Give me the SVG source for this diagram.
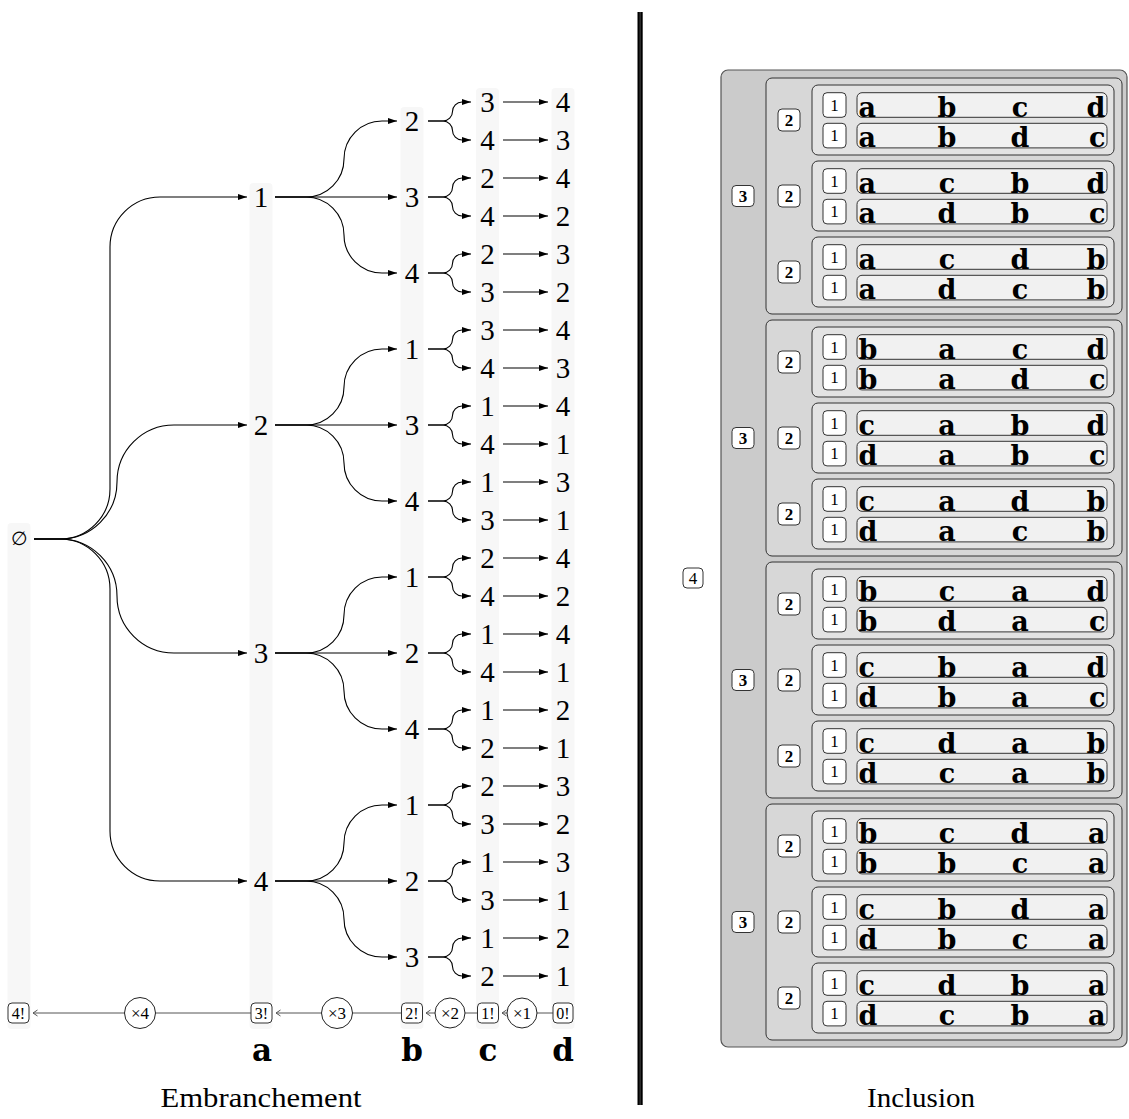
<svg xmlns="http://www.w3.org/2000/svg" width="1129" height="1119" viewBox="0 0 1129 1119">
<defs>
<marker id="ah" markerUnits="userSpaceOnUse" markerWidth="10" markerHeight="7" refX="9" refY="3" orient="auto"><path d="M0,0 L9,3 L0,6 Z" fill="#000"/></marker>
<marker id="oa" markerUnits="userSpaceOnUse" markerWidth="7" markerHeight="8" refX="5" refY="3.5" orient="auto"><path d="M0.5,0.5 L5,3.5 L0.5,6.5" fill="none" stroke="#555" stroke-width="1"/></marker>
</defs>
<style>
.strip{fill:#f7f7f7}
.dg{font-family:"Liberation Serif",serif;font-size:29px;text-anchor:middle;fill:#000}
.sym{font-family:"DejaVu Serif",serif;font-size:19px;text-anchor:middle;fill:#000}
.e{fill:none;stroke:#000;stroke-width:1.1;marker-end:url(#ah)}
.ga{fill:none;stroke:#555;stroke-width:1;marker-end:url(#oa)}
.fb{fill:#fff;stroke:#333;stroke-width:1}
.cc{fill:#fff;stroke:#222;stroke-width:1}
.sm{font-family:"Liberation Serif",serif;font-size:16px;text-anchor:middle;fill:#000}
.sx{font-family:"Liberation Serif",serif;font-size:17px;text-anchor:middle;fill:#000}
.bl{font-family:"DejaVu Serif",serif;font-weight:bold;font-size:31px;text-anchor:middle;fill:#000}
.cap{font-family:"Liberation Serif",serif;font-size:28px;text-anchor:middle;fill:#000}
.o{fill:#cbcbcb;stroke:#555;stroke-width:1.2}
.l3{fill:#d7d7d7;stroke:#333;stroke-width:1}
.l2{fill:#e3e3e3;stroke:#333;stroke-width:1}
.pm{fill:#f1f1f1;stroke:#333;stroke-width:1}
.lb{fill:#fff;stroke:#333;stroke-width:1}
.s1{font-family:"Liberation Serif",serif;font-size:17px;text-anchor:middle;fill:#000}
.sb{font-family:"Liberation Serif",serif;font-size:17px;font-weight:bold;text-anchor:middle;fill:#000}
.pa{font-family:"DejaVu Serif",serif;font-weight:bold;font-size:27px;fill:#000;text-anchor:start}
.pc{font-family:"DejaVu Serif",serif;font-weight:bold;font-size:27px;fill:#000;text-anchor:middle}
.pe{font-family:"DejaVu Serif",serif;font-weight:bold;font-size:27px;fill:#000;text-anchor:end}
</style>
<rect width="1129" height="1119" fill="#fff"/>

<g id="strips">
<rect class="strip" x="7.5" y="523" width="23" height="506" rx="4"/>
<rect class="strip" x="249.5" y="183" width="23" height="846" rx="4"/>
<rect class="strip" x="400.5" y="107" width="23" height="922" rx="4"/>
<rect class="strip" x="476" y="88" width="23" height="941" rx="4"/>
<rect class="strip" x="551.5" y="88" width="23" height="941" rx="4"/>
</g>

<g id="connectors">
<path class="e" d="M34,539 h26 c27.6,0 50,-22.4 50,-50 V247 c0,-27.6 22.4,-50 50,-50 H247"/>
<path class="e" d="M34,539 h26 c31.5,0 57,-25.5 57,-57 c0,-31.5 25.5,-57 57,-57 H247"/>
<path class="e" d="M34,539 h26 c31.5,0 57,25.5 57,57 c0,31.5 25.5,57 57,57 H247"/>
<path class="e" d="M34,539 h26 c27.6,0 50,22.4 50,50 V831 c0,27.6 22.4,50 50,50 H247"/>

<path class="e" d="M275,197 h31 c21,0 38,-17 38,-38 c0,-21 17,-38 38,-38 h15"/>
<path class="e" d="M275,197 H397"/>
<path class="e" d="M275,197 h31 c21,0 38,17 38,38 c0,21 17,38 38,38 h15"/>
<path class="e" d="M275,425 h31 c21,0 38,-17 38,-38 c0,-21 17,-38 38,-38 h15"/>
<path class="e" d="M275,425 H397"/>
<path class="e" d="M275,425 h31 c21,0 38,17 38,38 c0,21 17,38 38,38 h15"/>
<path class="e" d="M275,653 h31 c21,0 38,-17 38,-38 c0,-21 17,-38 38,-38 h15"/>
<path class="e" d="M275,653 H397"/>
<path class="e" d="M275,653 h31 c21,0 38,17 38,38 c0,21 17,38 38,38 h15"/>
<path class="e" d="M275,881 h31 c21,0 38,-17 38,-38 c0,-21 17,-38 38,-38 h15"/>
<path class="e" d="M275,881 H397"/>
<path class="e" d="M275,881 h31 c21,0 38,17 38,38 c0,21 17,38 38,38 h15"/>

<path class="e" d="M428,121 h15 c5.24,0 9.5,-4.26 9.5,-9.5 c0,-5.24 4.26,-9.5 9.5,-9.5 h9"/>
<path class="e" d="M428,121 h15 c5.24,0 9.5,4.26 9.5,9.5 c0,5.24 4.26,9.5 9.5,9.5 h9"/>
<path class="e" d="M428,197 h15 c5.24,0 9.5,-4.26 9.5,-9.5 c0,-5.24 4.26,-9.5 9.5,-9.5 h9"/>
<path class="e" d="M428,197 h15 c5.24,0 9.5,4.26 9.5,9.5 c0,5.24 4.26,9.5 9.5,9.5 h9"/>
<path class="e" d="M428,273 h15 c5.24,0 9.5,-4.26 9.5,-9.5 c0,-5.24 4.26,-9.5 9.5,-9.5 h9"/>
<path class="e" d="M428,273 h15 c5.24,0 9.5,4.26 9.5,9.5 c0,5.24 4.26,9.5 9.5,9.5 h9"/>
<path class="e" d="M428,349 h15 c5.24,0 9.5,-4.26 9.5,-9.5 c0,-5.24 4.26,-9.5 9.5,-9.5 h9"/>
<path class="e" d="M428,349 h15 c5.24,0 9.5,4.26 9.5,9.5 c0,5.24 4.26,9.5 9.5,9.5 h9"/>
<path class="e" d="M428,425 h15 c5.24,0 9.5,-4.26 9.5,-9.5 c0,-5.24 4.26,-9.5 9.5,-9.5 h9"/>
<path class="e" d="M428,425 h15 c5.24,0 9.5,4.26 9.5,9.5 c0,5.24 4.26,9.5 9.5,9.5 h9"/>
<path class="e" d="M428,501 h15 c5.24,0 9.5,-4.26 9.5,-9.5 c0,-5.24 4.26,-9.5 9.5,-9.5 h9"/>
<path class="e" d="M428,501 h15 c5.24,0 9.5,4.26 9.5,9.5 c0,5.24 4.26,9.5 9.5,9.5 h9"/>
<path class="e" d="M428,577 h15 c5.24,0 9.5,-4.26 9.5,-9.5 c0,-5.24 4.26,-9.5 9.5,-9.5 h9"/>
<path class="e" d="M428,577 h15 c5.24,0 9.5,4.26 9.5,9.5 c0,5.24 4.26,9.5 9.5,9.5 h9"/>
<path class="e" d="M428,653 h15 c5.24,0 9.5,-4.26 9.5,-9.5 c0,-5.24 4.26,-9.5 9.5,-9.5 h9"/>
<path class="e" d="M428,653 h15 c5.24,0 9.5,4.26 9.5,9.5 c0,5.24 4.26,9.5 9.5,9.5 h9"/>
<path class="e" d="M428,729 h15 c5.24,0 9.5,-4.26 9.5,-9.5 c0,-5.24 4.26,-9.5 9.5,-9.5 h9"/>
<path class="e" d="M428,729 h15 c5.24,0 9.5,4.26 9.5,9.5 c0,5.24 4.26,9.5 9.5,9.5 h9"/>
<path class="e" d="M428,805 h15 c5.24,0 9.5,-4.26 9.5,-9.5 c0,-5.24 4.26,-9.5 9.5,-9.5 h9"/>
<path class="e" d="M428,805 h15 c5.24,0 9.5,4.26 9.5,9.5 c0,5.24 4.26,9.5 9.5,9.5 h9"/>
<path class="e" d="M428,881 h15 c5.24,0 9.5,-4.26 9.5,-9.5 c0,-5.24 4.26,-9.5 9.5,-9.5 h9"/>
<path class="e" d="M428,881 h15 c5.24,0 9.5,4.26 9.5,9.5 c0,5.24 4.26,9.5 9.5,9.5 h9"/>
<path class="e" d="M428,957 h15 c5.24,0 9.5,-4.26 9.5,-9.5 c0,-5.24 4.26,-9.5 9.5,-9.5 h9"/>
<path class="e" d="M428,957 h15 c5.24,0 9.5,4.26 9.5,9.5 c0,5.24 4.26,9.5 9.5,9.5 h9"/>

<path class="e" d="M503,102 H548"/><path class="e" d="M503,140 H548"/>
<path class="e" d="M503,178 H548"/><path class="e" d="M503,216 H548"/>
<path class="e" d="M503,254 H548"/><path class="e" d="M503,292 H548"/>
<path class="e" d="M503,330 H548"/><path class="e" d="M503,368 H548"/>
<path class="e" d="M503,406 H548"/><path class="e" d="M503,444 H548"/>
<path class="e" d="M503,482 H548"/><path class="e" d="M503,520 H548"/>
<path class="e" d="M503,558 H548"/><path class="e" d="M503,596 H548"/>
<path class="e" d="M503,634 H548"/><path class="e" d="M503,672 H548"/>
<path class="e" d="M503,710 H548"/><path class="e" d="M503,748 H548"/>
<path class="e" d="M503,786 H548"/><path class="e" d="M503,824 H548"/>
<path class="e" d="M503,862 H548"/><path class="e" d="M503,900 H548"/>
<path class="e" d="M503,938 H548"/><path class="e" d="M503,976 H548"/>

<path class="ga" d="M252,1013 H33"/>
<path class="ga" d="M402,1013 H276"/>
<path class="ga" d="M478,1013 H426"/>
<path class="ga" d="M554,1013 H502"/>
</g>

<g id="tree-nodes">
<g id="n-root"><text class="sym" x="19" y="545">∅</text></g>
<g id="n-l1">
<text class="dg" x="261" y="206.8">1</text>
<text class="dg" x="261" y="434.8">2</text>
<text class="dg" x="261" y="662.8">3</text>
<text class="dg" x="261" y="890.8">4</text>
</g>
<g id="n-l2">
<text class="dg" x="412" y="130.8">2</text>
<text class="dg" x="412" y="206.8">3</text>
<text class="dg" x="412" y="282.8">4</text>
<text class="dg" x="412" y="358.8">1</text>
<text class="dg" x="412" y="434.8">3</text>
<text class="dg" x="412" y="510.8">4</text>
<text class="dg" x="412" y="586.8">1</text>
<text class="dg" x="412" y="662.8">2</text>
<text class="dg" x="412" y="738.8">4</text>
<text class="dg" x="412" y="814.8">1</text>
<text class="dg" x="412" y="890.8">2</text>
<text class="dg" x="412" y="966.8">3</text>
</g>
<g id="n-l3">
<text class="dg" x="487.5" y="111.8">3</text>
<text class="dg" x="487.5" y="149.8">4</text>
<text class="dg" x="487.5" y="187.8">2</text>
<text class="dg" x="487.5" y="225.8">4</text>
<text class="dg" x="487.5" y="263.8">2</text>
<text class="dg" x="487.5" y="301.8">3</text>
<text class="dg" x="487.5" y="339.8">3</text>
<text class="dg" x="487.5" y="377.8">4</text>
<text class="dg" x="487.5" y="415.8">1</text>
<text class="dg" x="487.5" y="453.8">4</text>
<text class="dg" x="487.5" y="491.8">1</text>
<text class="dg" x="487.5" y="529.8">3</text>
<text class="dg" x="487.5" y="567.8">2</text>
<text class="dg" x="487.5" y="605.8">4</text>
<text class="dg" x="487.5" y="643.8">1</text>
<text class="dg" x="487.5" y="681.8">4</text>
<text class="dg" x="487.5" y="719.8">1</text>
<text class="dg" x="487.5" y="757.8">2</text>
<text class="dg" x="487.5" y="795.8">2</text>
<text class="dg" x="487.5" y="833.8">3</text>
<text class="dg" x="487.5" y="871.8">1</text>
<text class="dg" x="487.5" y="909.8">3</text>
<text class="dg" x="487.5" y="947.8">1</text>
<text class="dg" x="487.5" y="985.8">2</text>
</g>
<g id="n-l4">
<text class="dg" x="563" y="111.8">4</text>
<text class="dg" x="563" y="149.8">3</text>
<text class="dg" x="563" y="187.8">4</text>
<text class="dg" x="563" y="225.8">2</text>
<text class="dg" x="563" y="263.8">3</text>
<text class="dg" x="563" y="301.8">2</text>
<text class="dg" x="563" y="339.8">4</text>
<text class="dg" x="563" y="377.8">3</text>
<text class="dg" x="563" y="415.8">4</text>
<text class="dg" x="563" y="453.8">1</text>
<text class="dg" x="563" y="491.8">3</text>
<text class="dg" x="563" y="529.8">1</text>
<text class="dg" x="563" y="567.8">4</text>
<text class="dg" x="563" y="605.8">2</text>
<text class="dg" x="563" y="643.8">4</text>
<text class="dg" x="563" y="681.8">1</text>
<text class="dg" x="563" y="719.8">2</text>
<text class="dg" x="563" y="757.8">1</text>
<text class="dg" x="563" y="795.8">3</text>
<text class="dg" x="563" y="833.8">2</text>
<text class="dg" x="563" y="871.8">3</text>
<text class="dg" x="563" y="909.8">1</text>
<text class="dg" x="563" y="947.8">2</text>
<text class="dg" x="563" y="985.8">1</text>
</g>
</g>

<g id="counters">
<g id="f4"><rect class="fb" x="8" y="1003" width="21" height="20" rx="4"/><text class="sm" x="18.5" y="1018.5">4!</text></g>
<g id="m4"><circle class="cc" cx="140" cy="1013" r="15.5"/><text class="sx" x="140" y="1019">×4</text></g>
<g id="f3"><rect class="fb" x="251" y="1003" width="21" height="20" rx="4"/><text class="sm" x="261.5" y="1018.5">3!</text></g>
<g id="m3"><circle class="cc" cx="337" cy="1013" r="15.5"/><text class="sx" x="337" y="1019">×3</text></g>
<g id="f2"><rect class="fb" x="401.5" y="1003" width="21" height="20" rx="4"/><text class="sm" x="412" y="1018.5">2!</text></g>
<g id="m2"><circle class="cc" cx="450" cy="1013" r="15"/><text class="sx" x="450" y="1019">×2</text></g>
<g id="f1"><rect class="fb" x="477.5" y="1003" width="21" height="20" rx="4"/><text class="sm" x="488" y="1018.5">1!</text></g>
<g id="m1"><circle class="cc" cx="522" cy="1013" r="15"/><text class="sx" x="522" y="1019">×1</text></g>
<g id="f0"><rect class="fb" x="553" y="1003" width="20" height="20" rx="4"/><text class="sm" x="563" y="1018.5">0!</text></g>
</g>

<g id="col-labels">
<text class="bl" x="262" y="1061">a</text>
<text class="bl" x="412" y="1061">b</text>
<text class="bl" x="488" y="1061">c</text>
<text class="bl" x="563" y="1061">d</text>
</g>

<text class="cap" x="261" y="1107" textLength="201" lengthAdjust="spacingAndGlyphs">Embranchement</text>
<text class="cap" x="921" y="1107" textLength="108" lengthAdjust="spacingAndGlyphs">Inclusion</text>

<g id="separator">
<rect x="637.5" y="12" width="5.2" height="1093" fill="#000"/>
<line x1="640.1" y1="12" x2="640.1" y2="1105" stroke="#777" stroke-width="0.6"/>
</g>

<g id="inclusion">
<g id="box4">
<rect class="o" x="721" y="70" width="406" height="977" rx="7"/>
<rect class="lb" x="683" y="568" width="20" height="20" rx="4"/><text class="s1" x="693" y="584">4</text>
</g>

<g id="box3-a">
<rect class="l3" x="766" y="78" width="356" height="236" rx="6"/>
<rect class="lb" x="732" y="185.5" width="22" height="21" rx="4"/><text class="sb" x="743" y="202">3</text>
<g id="box2-a1"><rect class="l2" x="812" y="85" width="302" height="70" rx="6"/>
<rect class="lb" x="778" y="109" width="22" height="22" rx="4"/><text class="sb" x="789" y="126">2</text>
<g id="p01" transform="translate(0,92.7)"><rect class="lb" x="823" width="23" height="24.6" rx="4"/><text class="s1" x="834.5" y="18.2">1</text><rect class="pm" x="857" width="250" height="24.6" rx="5"/><text class="pa" x="858.5" y="24">a</text><text class="pc" x="947" y="24">b</text><text class="pc" x="1020" y="24">c</text><text class="pe" x="1105.5" y="24">d</text></g>
<g id="p02" transform="translate(0,123.3)"><rect class="lb" x="823" width="23" height="24.6" rx="4"/><text class="s1" x="834.5" y="18.2">1</text><rect class="pm" x="857" width="250" height="24.6" rx="5"/><text class="pa" x="858.5" y="24">a</text><text class="pc" x="947" y="24">b</text><text class="pc" x="1020" y="24">d</text><text class="pe" x="1105.5" y="24">c</text></g>
</g>
<g id="box2-a2"><rect class="l2" x="812" y="161" width="302" height="70" rx="6"/>
<rect class="lb" x="778" y="185" width="22" height="22" rx="4"/><text class="sb" x="789" y="202">2</text>
<g id="p03" transform="translate(0,168.7)"><rect class="lb" x="823" width="23" height="24.6" rx="4"/><text class="s1" x="834.5" y="18.2">1</text><rect class="pm" x="857" width="250" height="24.6" rx="5"/><text class="pa" x="858.5" y="24">a</text><text class="pc" x="947" y="24">c</text><text class="pc" x="1020" y="24">b</text><text class="pe" x="1105.5" y="24">d</text></g>
<g id="p04" transform="translate(0,199.3)"><rect class="lb" x="823" width="23" height="24.6" rx="4"/><text class="s1" x="834.5" y="18.2">1</text><rect class="pm" x="857" width="250" height="24.6" rx="5"/><text class="pa" x="858.5" y="24">a</text><text class="pc" x="947" y="24">d</text><text class="pc" x="1020" y="24">b</text><text class="pe" x="1105.5" y="24">c</text></g>
</g>
<g id="box2-a3"><rect class="l2" x="812" y="237" width="302" height="70" rx="6"/>
<rect class="lb" x="778" y="261" width="22" height="22" rx="4"/><text class="sb" x="789" y="278">2</text>
<g id="p05" transform="translate(0,244.7)"><rect class="lb" x="823" width="23" height="24.6" rx="4"/><text class="s1" x="834.5" y="18.2">1</text><rect class="pm" x="857" width="250" height="24.6" rx="5"/><text class="pa" x="858.5" y="24">a</text><text class="pc" x="947" y="24">c</text><text class="pc" x="1020" y="24">d</text><text class="pe" x="1105.5" y="24">b</text></g>
<g id="p06" transform="translate(0,275.3)"><rect class="lb" x="823" width="23" height="24.6" rx="4"/><text class="s1" x="834.5" y="18.2">1</text><rect class="pm" x="857" width="250" height="24.6" rx="5"/><text class="pa" x="858.5" y="24">a</text><text class="pc" x="947" y="24">d</text><text class="pc" x="1020" y="24">c</text><text class="pe" x="1105.5" y="24">b</text></g>
</g>
</g>

<g id="box3-b">
<rect class="l3" x="766" y="320" width="356" height="236" rx="6"/>
<rect class="lb" x="732" y="427.5" width="22" height="21" rx="4"/><text class="sb" x="743" y="444">3</text>
<g id="box2-b1"><rect class="l2" x="812" y="327" width="302" height="70" rx="6"/>
<rect class="lb" x="778" y="351" width="22" height="22" rx="4"/><text class="sb" x="789" y="368">2</text>
<g id="p07" transform="translate(0,334.7)"><rect class="lb" x="823" width="23" height="24.6" rx="4"/><text class="s1" x="834.5" y="18.2">1</text><rect class="pm" x="857" width="250" height="24.6" rx="5"/><text class="pa" x="858.5" y="24">b</text><text class="pc" x="947" y="24">a</text><text class="pc" x="1020" y="24">c</text><text class="pe" x="1105.5" y="24">d</text></g>
<g id="p08" transform="translate(0,365.3)"><rect class="lb" x="823" width="23" height="24.6" rx="4"/><text class="s1" x="834.5" y="18.2">1</text><rect class="pm" x="857" width="250" height="24.6" rx="5"/><text class="pa" x="858.5" y="24">b</text><text class="pc" x="947" y="24">a</text><text class="pc" x="1020" y="24">d</text><text class="pe" x="1105.5" y="24">c</text></g>
</g>
<g id="box2-b2"><rect class="l2" x="812" y="403" width="302" height="70" rx="6"/>
<rect class="lb" x="778" y="427" width="22" height="22" rx="4"/><text class="sb" x="789" y="444">2</text>
<g id="p09" transform="translate(0,410.7)"><rect class="lb" x="823" width="23" height="24.6" rx="4"/><text class="s1" x="834.5" y="18.2">1</text><rect class="pm" x="857" width="250" height="24.6" rx="5"/><text class="pa" x="858.5" y="24">c</text><text class="pc" x="947" y="24">a</text><text class="pc" x="1020" y="24">b</text><text class="pe" x="1105.5" y="24">d</text></g>
<g id="p10" transform="translate(0,441.3)"><rect class="lb" x="823" width="23" height="24.6" rx="4"/><text class="s1" x="834.5" y="18.2">1</text><rect class="pm" x="857" width="250" height="24.6" rx="5"/><text class="pa" x="858.5" y="24">d</text><text class="pc" x="947" y="24">a</text><text class="pc" x="1020" y="24">b</text><text class="pe" x="1105.5" y="24">c</text></g>
</g>
<g id="box2-b3"><rect class="l2" x="812" y="479" width="302" height="70" rx="6"/>
<rect class="lb" x="778" y="503" width="22" height="22" rx="4"/><text class="sb" x="789" y="520">2</text>
<g id="p11" transform="translate(0,486.7)"><rect class="lb" x="823" width="23" height="24.6" rx="4"/><text class="s1" x="834.5" y="18.2">1</text><rect class="pm" x="857" width="250" height="24.6" rx="5"/><text class="pa" x="858.5" y="24">c</text><text class="pc" x="947" y="24">a</text><text class="pc" x="1020" y="24">d</text><text class="pe" x="1105.5" y="24">b</text></g>
<g id="p12" transform="translate(0,517.3)"><rect class="lb" x="823" width="23" height="24.6" rx="4"/><text class="s1" x="834.5" y="18.2">1</text><rect class="pm" x="857" width="250" height="24.6" rx="5"/><text class="pa" x="858.5" y="24">d</text><text class="pc" x="947" y="24">a</text><text class="pc" x="1020" y="24">c</text><text class="pe" x="1105.5" y="24">b</text></g>
</g>
</g>

<g id="box3-c">
<rect class="l3" x="766" y="562" width="356" height="236" rx="6"/>
<rect class="lb" x="732" y="669.5" width="22" height="21" rx="4"/><text class="sb" x="743" y="686">3</text>
<g id="box2-c1"><rect class="l2" x="812" y="569" width="302" height="70" rx="6"/>
<rect class="lb" x="778" y="593" width="22" height="22" rx="4"/><text class="sb" x="789" y="610">2</text>
<g id="p13" transform="translate(0,576.7)"><rect class="lb" x="823" width="23" height="24.6" rx="4"/><text class="s1" x="834.5" y="18.2">1</text><rect class="pm" x="857" width="250" height="24.6" rx="5"/><text class="pa" x="858.5" y="24">b</text><text class="pc" x="947" y="24">c</text><text class="pc" x="1020" y="24">a</text><text class="pe" x="1105.5" y="24">d</text></g>
<g id="p14" transform="translate(0,607.3)"><rect class="lb" x="823" width="23" height="24.6" rx="4"/><text class="s1" x="834.5" y="18.2">1</text><rect class="pm" x="857" width="250" height="24.6" rx="5"/><text class="pa" x="858.5" y="24">b</text><text class="pc" x="947" y="24">d</text><text class="pc" x="1020" y="24">a</text><text class="pe" x="1105.5" y="24">c</text></g>
</g>
<g id="box2-c2"><rect class="l2" x="812" y="645" width="302" height="70" rx="6"/>
<rect class="lb" x="778" y="669" width="22" height="22" rx="4"/><text class="sb" x="789" y="686">2</text>
<g id="p15" transform="translate(0,652.7)"><rect class="lb" x="823" width="23" height="24.6" rx="4"/><text class="s1" x="834.5" y="18.2">1</text><rect class="pm" x="857" width="250" height="24.6" rx="5"/><text class="pa" x="858.5" y="24">c</text><text class="pc" x="947" y="24">b</text><text class="pc" x="1020" y="24">a</text><text class="pe" x="1105.5" y="24">d</text></g>
<g id="p16" transform="translate(0,683.3)"><rect class="lb" x="823" width="23" height="24.6" rx="4"/><text class="s1" x="834.5" y="18.2">1</text><rect class="pm" x="857" width="250" height="24.6" rx="5"/><text class="pa" x="858.5" y="24">d</text><text class="pc" x="947" y="24">b</text><text class="pc" x="1020" y="24">a</text><text class="pe" x="1105.5" y="24">c</text></g>
</g>
<g id="box2-c3"><rect class="l2" x="812" y="721" width="302" height="70" rx="6"/>
<rect class="lb" x="778" y="745" width="22" height="22" rx="4"/><text class="sb" x="789" y="762">2</text>
<g id="p17" transform="translate(0,728.7)"><rect class="lb" x="823" width="23" height="24.6" rx="4"/><text class="s1" x="834.5" y="18.2">1</text><rect class="pm" x="857" width="250" height="24.6" rx="5"/><text class="pa" x="858.5" y="24">c</text><text class="pc" x="947" y="24">d</text><text class="pc" x="1020" y="24">a</text><text class="pe" x="1105.5" y="24">b</text></g>
<g id="p18" transform="translate(0,759.3)"><rect class="lb" x="823" width="23" height="24.6" rx="4"/><text class="s1" x="834.5" y="18.2">1</text><rect class="pm" x="857" width="250" height="24.6" rx="5"/><text class="pa" x="858.5" y="24">d</text><text class="pc" x="947" y="24">c</text><text class="pc" x="1020" y="24">a</text><text class="pe" x="1105.5" y="24">b</text></g>
</g>
</g>

<g id="box3-d">
<rect class="l3" x="766" y="804" width="356" height="236" rx="6"/>
<rect class="lb" x="732" y="911.5" width="22" height="21" rx="4"/><text class="sb" x="743" y="928">3</text>
<g id="box2-d1"><rect class="l2" x="812" y="811" width="302" height="70" rx="6"/>
<rect class="lb" x="778" y="835" width="22" height="22" rx="4"/><text class="sb" x="789" y="852">2</text>
<g id="p19" transform="translate(0,818.7)"><rect class="lb" x="823" width="23" height="24.6" rx="4"/><text class="s1" x="834.5" y="18.2">1</text><rect class="pm" x="857" width="250" height="24.6" rx="5"/><text class="pa" x="858.5" y="24">b</text><text class="pc" x="947" y="24">c</text><text class="pc" x="1020" y="24">d</text><text class="pe" x="1105.5" y="24">a</text></g>
<g id="p20" transform="translate(0,849.3)"><rect class="lb" x="823" width="23" height="24.6" rx="4"/><text class="s1" x="834.5" y="18.2">1</text><rect class="pm" x="857" width="250" height="24.6" rx="5"/><text class="pa" x="858.5" y="24">b</text><text class="pc" x="947" y="24">b</text><text class="pc" x="1020" y="24">c</text><text class="pe" x="1105.5" y="24">a</text></g>
</g>
<g id="box2-d2"><rect class="l2" x="812" y="887" width="302" height="70" rx="6"/>
<rect class="lb" x="778" y="911" width="22" height="22" rx="4"/><text class="sb" x="789" y="928">2</text>
<g id="p21" transform="translate(0,894.7)"><rect class="lb" x="823" width="23" height="24.6" rx="4"/><text class="s1" x="834.5" y="18.2">1</text><rect class="pm" x="857" width="250" height="24.6" rx="5"/><text class="pa" x="858.5" y="24">c</text><text class="pc" x="947" y="24">b</text><text class="pc" x="1020" y="24">d</text><text class="pe" x="1105.5" y="24">a</text></g>
<g id="p22" transform="translate(0,925.3)"><rect class="lb" x="823" width="23" height="24.6" rx="4"/><text class="s1" x="834.5" y="18.2">1</text><rect class="pm" x="857" width="250" height="24.6" rx="5"/><text class="pa" x="858.5" y="24">d</text><text class="pc" x="947" y="24">b</text><text class="pc" x="1020" y="24">c</text><text class="pe" x="1105.5" y="24">a</text></g>
</g>
<g id="box2-d3"><rect class="l2" x="812" y="963" width="302" height="70" rx="6"/>
<rect class="lb" x="778" y="987" width="22" height="22" rx="4"/><text class="sb" x="789" y="1004">2</text>
<g id="p23" transform="translate(0,970.7)"><rect class="lb" x="823" width="23" height="24.6" rx="4"/><text class="s1" x="834.5" y="18.2">1</text><rect class="pm" x="857" width="250" height="24.6" rx="5"/><text class="pa" x="858.5" y="24">c</text><text class="pc" x="947" y="24">d</text><text class="pc" x="1020" y="24">b</text><text class="pe" x="1105.5" y="24">a</text></g>
<g id="p24" transform="translate(0,1001.3)"><rect class="lb" x="823" width="23" height="24.6" rx="4"/><text class="s1" x="834.5" y="18.2">1</text><rect class="pm" x="857" width="250" height="24.6" rx="5"/><text class="pa" x="858.5" y="24">d</text><text class="pc" x="947" y="24">c</text><text class="pc" x="1020" y="24">b</text><text class="pe" x="1105.5" y="24">a</text></g>
</g>
</g>
</g>
</svg>
